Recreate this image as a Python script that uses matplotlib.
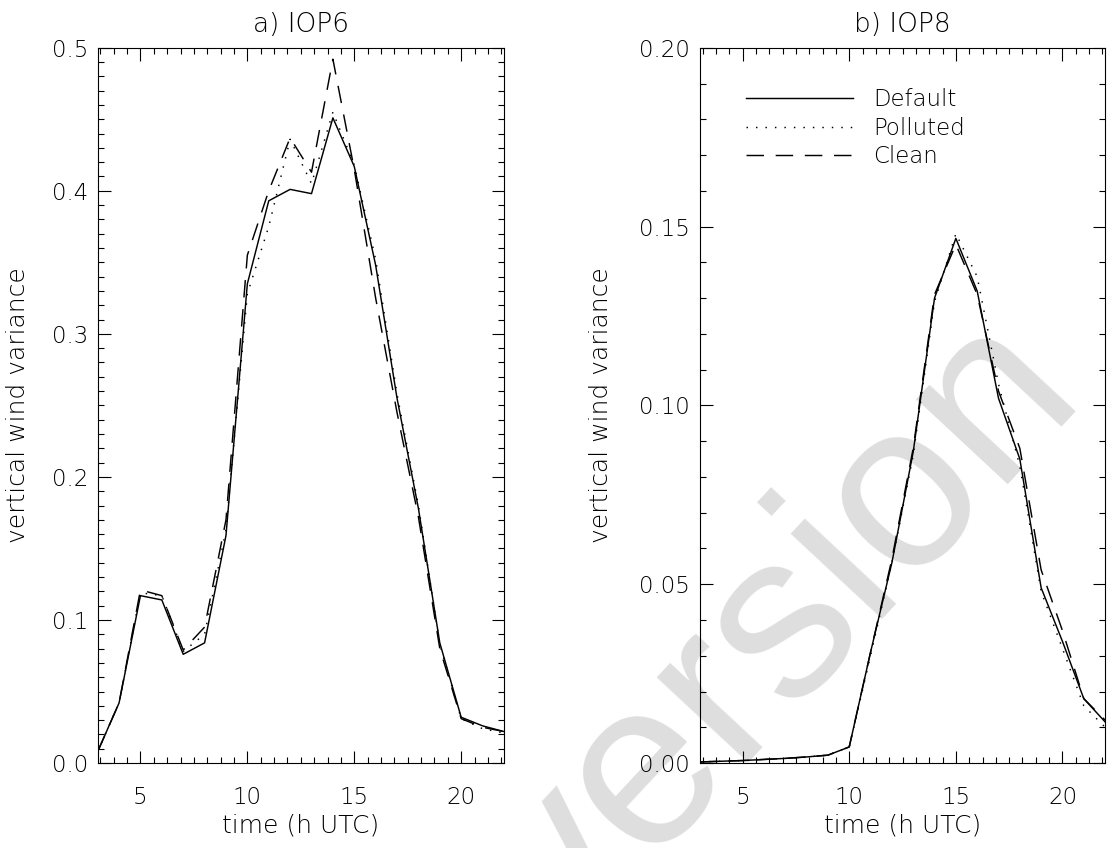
import matplotlib
matplotlib.use("Agg")
import matplotlib.pyplot as plt
from matplotlib.ticker import MultipleLocator, FormatStrFormatter

plt.rcParams['font.family'] = ['DejaVu Sans']
plt.rcParams['font.weight'] = 'light'
plt.rcParams['axes.titleweight'] = 'light'
plt.rcParams['axes.labelweight'] = 'light'
fs = 16.5

hours = list(range(3, 23))

# IOP6 vertical wind variance
iop6_default = [0.008, 0.042, 0.117, 0.114, 0.076, 0.084, 0.159, 0.335, 0.393, 0.401,
                0.398, 0.451, 0.417, 0.348, 0.255, 0.178, 0.084, 0.032, 0.026, 0.022]
iop6_polluted = [0.008, 0.042, 0.119, 0.117, 0.078, 0.090, 0.163, 0.328, 0.375, 0.436,
                 0.405, 0.455, 0.418, 0.352, 0.258, 0.180, 0.083, 0.031, 0.024, 0.021]
iop6_clean = [0.008, 0.042, 0.121, 0.117, 0.079, 0.095, 0.170, 0.355, 0.400, 0.437,
              0.413, 0.492, 0.415, 0.325, 0.245, 0.172, 0.080, 0.031, 0.025, 0.022]

# IOP8 vertical wind variance
iop8_default = [0.0003, 0.0005, 0.0007, 0.0010, 0.0013, 0.0017, 0.0022, 0.0045, 0.031, 0.056,
                0.087, 0.130, 0.1467, 0.132, 0.102, 0.085, 0.049, 0.034, 0.018, 0.0115]
iop8_polluted = [0.0003, 0.0005, 0.0007, 0.0010, 0.0013, 0.0017, 0.0022, 0.0045, 0.030, 0.056,
                 0.086, 0.129, 0.148, 0.136, 0.106, 0.083, 0.048, 0.032, 0.016, 0.010]
iop8_clean = [0.0003, 0.0005, 0.0007, 0.0010, 0.0013, 0.0017, 0.0022, 0.0045, 0.031, 0.057,
              0.088, 0.131, 0.145, 0.131, 0.104, 0.088, 0.054, 0.037, 0.018, 0.012]

labels = ["Default", "Polluted", "Clean"]
styles = ['-', (0, (1, 5.5)), (0, (12, 8))]

fig = plt.figure(figsize=(11.1, 8.48), dpi=100)
ax1 = fig.add_axes([0.088, 0.1002, 0.366, 0.8435])
ax2 = fig.add_axes([0.6306, 0.1002, 0.365, 0.8435])

# faint watermark behind everything
fig.text(0.705, 0.25, "version", fontsize=170, color='#dedede', rotation=47,
         ha='center', va='center', family='Liberation Sans', fontweight='normal',
         zorder=-5)

panels = [(ax1, "a) IOP6", [iop6_default, iop6_polluted, iop6_clean], 0.5, 0.1, '%.1f', -0.167),
          (ax2, "b) IOP8", [iop8_default, iop8_polluted, iop8_clean], 0.2, 0.05, '%.2f', -0.215)]

for ax, title, series, ymax, ymaj, fmt, ylab_x in panels:
    ax.patch.set_alpha(0)
    for vals, ls, lab in zip(series, styles, labels):
        ax.plot(hours, vals, color='black', linestyle=ls, linewidth=1.05, label=lab)
    ax.set_xlim(3, 22)
    ax.set_ylim(0, ymax)
    ax.xaxis.set_major_locator(MultipleLocator(5))
    ax.xaxis.set_minor_locator(MultipleLocator(0.625))
    ax.yaxis.set_major_locator(MultipleLocator(ymaj))
    ax.yaxis.set_minor_locator(MultipleLocator(0.01))
    ax.yaxis.set_major_formatter(FormatStrFormatter(fmt))
    ax.tick_params(which='both', direction='in', top=True, right=True, width=0.8)
    ax.tick_params(which='major', length=9)
    ax.tick_params(which='minor', length=4.3)
    ax.tick_params(axis='x', pad=16.5, labelsize=fs)
    ax.tick_params(axis='y', pad=7, labelsize=fs)
    for sp in ax.spines.values():
        sp.set_linewidth(0.8)
    ax.set_title(title, fontsize=19, pad=11)
    ax.set_xlabel("time (h UTC)", fontsize=18)
    ax.set_ylabel("vertical wind variance", fontsize=18)
    ax.xaxis.set_label_coords(0.5, -0.071)
    ax.yaxis.set_label_coords(ylab_x, 0.5)

ax2.legend(loc='upper left', bbox_to_anchor=(0.1136, 0.944), frameon=False,
           fontsize=fs, handlelength=4.67, handletextpad=0.87, labelspacing=0.25,
           borderpad=0, borderaxespad=0)

fig.savefig("out.png", dpi=100)
